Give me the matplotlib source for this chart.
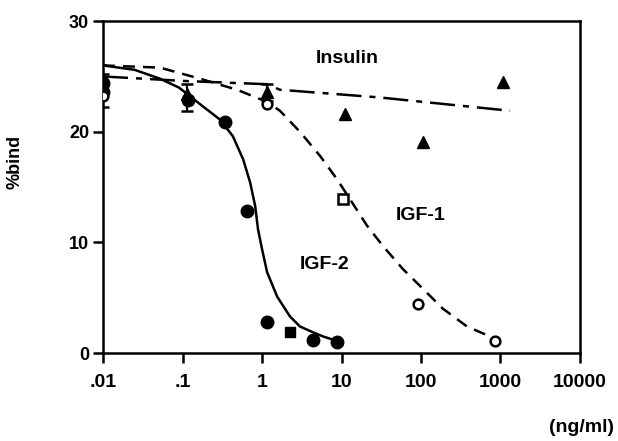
import matplotlib
matplotlib.use('Agg')
import matplotlib.pyplot as plt

plt.rcParams['font.family'] = ['Liberation Sans', 'DejaVu Sans']
plt.rcParams['font.weight'] = 'bold'

# tick labels
x_ticks = [0.01, 0.1, 1, 10, 100, 1000, 10000]
x_labels = ['.01', '.1', '1', '10', '100', '1000', '10000']
y_ticks = [0, 10, 20, 30]

# IGF-2 (filled circles + one filled square), solid curve
igf2_x = [0.01, 0.01, 0.117, 0.34, 0.65, 1.16, 4.4, 8.8]
igf2_y = [24.4, 23.6, 22.9, 20.9, 12.8, 2.8, 1.2, 1.0]
igf2_sq_x = [2.25]
igf2_sq_y = [1.9]
igf2_curve_x = [0.01, 0.025, 0.052, 0.09, 0.166, 0.296, 0.43, 0.58, 0.71, 0.82,
                0.89, 1.0, 1.16, 1.55, 2.25, 3.0, 4.3, 5.85, 9.6]
igf2_curve_y = [26.0, 25.6, 24.8, 24.0, 22.5, 21.1, 19.6, 17.5, 15.4, 13.3,
                11.2, 9.4, 7.3, 5.1, 3.3, 2.4, 1.9, 1.5, 1.0]

# IGF-1 (open circles + one open square), dashed curve
igf1_x = [0.01, 1.16, 91, 850]
igf1_y = [23.2, 22.5, 4.4, 1.1]
igf1_sq_x = [10.5]
igf1_sq_y = [13.9]
igf1_curve_x = [0.01, 0.052, 0.166, 0.485, 1.16, 1.68, 3.0, 5.4, 8.8, 12.8,
                21, 33, 59, 106, 189, 379, 738, 900]
igf1_curve_y = [26.0, 25.8, 24.8, 23.8, 22.7, 21.9, 20.0, 17.8, 15.7, 13.9,
                11.5, 9.7, 7.6, 5.8, 4.0, 2.4, 1.5, 1.35]

# Insulin (filled triangles), dash-dot line
ins_x = [0.01, 0.115, 1.15, 11, 105, 1070]
ins_y = [24.7, 23.4, 23.6, 21.6, 19.1, 24.5]
ins_err_x = [0.01, 0.115, 1.15]
ins_err_y = [24.2, 23.4, 23.6]
ins_err_lo = [22.2, 21.9, 22.8]
ins_err_hi = [25.2, 24.3, 24.3]
ins_line_x = [0.01, 0.1, 1.16, 1.68, 30.5, 1320]
ins_line_y = [25.0, 24.6, 24.3, 23.8, 23.1, 21.9]

fig = plt.figure(figsize=(6.18, 4.41), dpi=100)
ax = fig.add_axes([0.1667, 0.1995, 0.7718, 0.7525])

lw = 1.8
ax.plot(igf2_curve_x, igf2_curve_y, color='black', lw=lw, solid_capstyle='round')
ax.plot(igf1_curve_x, igf1_curve_y, color='black', lw=lw, dashes=(4.8, 3.2))
ax.plot(ins_line_x, ins_line_y, color='black', lw=lw, dashes=(10, 3.2, 2.4, 3.2))

ax.errorbar(ins_err_x, ins_err_y,
            yerr=[[y - lo for y, lo in zip(ins_err_y, ins_err_lo)],
                  [hi - y for y, hi in zip(ins_err_y, ins_err_hi)]],
            fmt='none', ecolor='black', elinewidth=1.6, capsize=4, capthick=1.8, zorder=3)

ax.plot(igf2_x, igf2_y, 'o', color='black', ms=9, zorder=4)
ax.plot(igf2_sq_x, igf2_sq_y, 's', color='black', ms=7, zorder=4)
ax.plot(igf1_x, igf1_y, 'o', mfc='white', mec='black', mew=1.8, ms=7, zorder=5)
ax.plot(igf1_sq_x, igf1_sq_y, 's', mfc='white', mec='black', mew=1.8, ms=7, zorder=5)
ax.plot(ins_x, ins_y, '^', color='black', ms=8, zorder=4)

ax.text(11.7, 26.6, 'Insulin', fontsize=14, ha='center', va='center')
ax.text(100, 12.4, 'IGF-1', fontsize=14, ha='center', va='center')
ax.text(6.2, 8.0, 'IGF-2', fontsize=14, ha='center', va='center')

ax.set_xscale('log')
ax.set_xlim(0.01, 10000)
ax.set_ylim(0, 30)
ax.set_xticks(x_ticks)
ax.set_xticklabels(x_labels)
ax.minorticks_off()
ax.set_yticks(y_ticks)
ax.tick_params(axis='x', direction='out', length=7, width=1.8, labelsize=14, pad=8)
ax.tick_params(axis='y', direction='out', length=7, width=1.8, labelsize=13, pad=3)
for s in ax.spines.values():
    s.set_linewidth(1.8)

fig.text(15 / 618, 1 - 162 / 441, '%bind', rotation=90, fontsize=13,
         ha='center', va='center')
fig.text(614 / 618, 1 - 428 / 441, '(ng/ml)', fontsize=14, ha='right', va='center')

fig.savefig('out.png', dpi=100)
